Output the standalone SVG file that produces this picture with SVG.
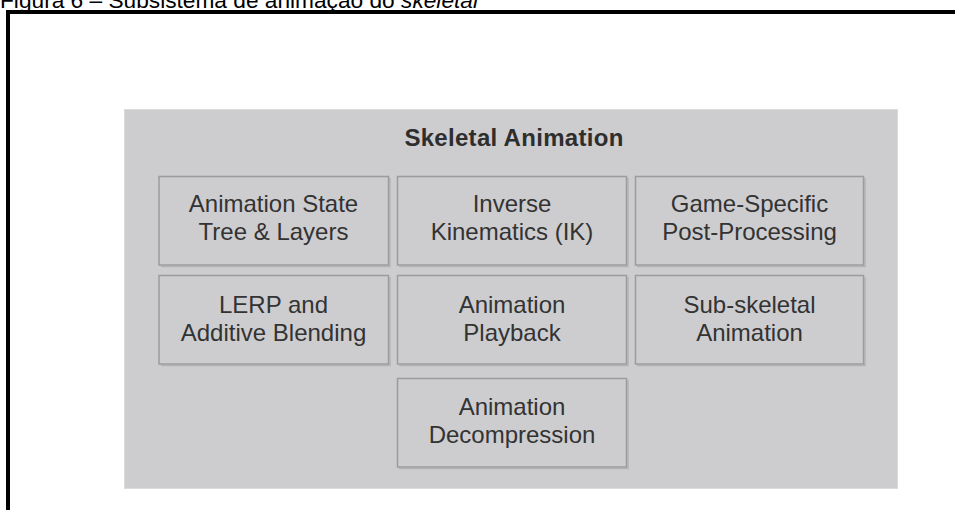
<svg xmlns="http://www.w3.org/2000/svg" width="955" height="510" viewBox="0 0 955 510">
  <style>
    .caption { font-family: "Liberation Sans", Arial, sans-serif; font-size: 22.7px; fill: #000; }
    .title { font-family: "Liberation Sans", Arial, sans-serif; font-size: 24px; font-weight: bold; fill: #2e2e2e; text-anchor: middle; letter-spacing: 0.3px; }
    .label { font-family: "Liberation Sans", Arial, sans-serif; font-size: 24px; fill: #333; text-anchor: middle; }
    .panel { fill: #cdcdcf; stroke: #dcdcde; stroke-width: 1; }
    .box { fill: #cdcdcf; stroke: #9c9c9e; stroke-width: 1.5; }
    .shadow { fill: none; stroke: #b4b4b6; stroke-width: 1.5; }
  </style>

  <rect x="0" y="0" width="955" height="510" fill="#ffffff"/>

  <!-- figure caption, partly outside the page top -->
  <text class="caption" x="0" y="8">Figura 6 – Subsistema de animação do <tspan font-style="italic">skeletal</tspan></text>

  <!-- page frame -->
  <g id="frame">
    <rect x="6" y="10" width="949" height="4" fill="#000"/>
    <rect x="6" y="10" width="4" height="500" fill="#000"/>
  </g>

  <!-- outer subsystem panel -->
  <g id="skeletal-animation">
    <rect class="panel" x="124.5" y="109.5" width="773" height="379"/>
    <text class="title" x="514" y="146">Skeletal Animation</text>
  </g>

  <g id="anim-state-tree">
    <polyline class="shadow" points="390,178 390,266.5 161,266.5"/>
    <rect class="box" x="159" y="176.5" width="229.5" height="88.5"/>
    <text class="label" x="273.5" y="212">Animation State</text>
    <text class="label" x="273.5" y="240">Tree &amp; Layers</text>
  </g>

  <g id="inverse-kinematics">
    <polyline class="shadow" points="628,178 628,266.5 399,266.5"/>
    <rect class="box" x="397.5" y="176.5" width="229" height="88.5"/>
    <text class="label" x="512" y="212">Inverse</text>
    <text class="label" x="512" y="240">Kinematics (IK)</text>
  </g>

  <g id="post-processing">
    <polyline class="shadow" points="865,178 865,266.5 637,266.5"/>
    <rect class="box" x="635.5" y="176.5" width="228" height="88.5"/>
    <text class="label" x="749.5" y="212">Game-Specific</text>
    <text class="label" x="749.5" y="240">Post-Processing</text>
  </g>

  <g id="lerp-blending">
    <polyline class="shadow" points="390,277 390,365.5 161,365.5"/>
    <rect class="box" x="159" y="275.5" width="229.5" height="88.5"/>
    <text class="label" x="273.5" y="313">LERP and</text>
    <text class="label" x="273.5" y="341">Additive Blending</text>
  </g>

  <g id="anim-playback">
    <polyline class="shadow" points="628,277 628,365.5 399,365.5"/>
    <rect class="box" x="397.5" y="275.5" width="229" height="88.5"/>
    <text class="label" x="512" y="313">Animation</text>
    <text class="label" x="512" y="341">Playback</text>
  </g>

  <g id="sub-skeletal">
    <polyline class="shadow" points="865,277 865,365.5 637,365.5"/>
    <rect class="box" x="635.5" y="275.5" width="228" height="88.5"/>
    <text class="label" x="749.5" y="313">Sub-skeletal</text>
    <text class="label" x="749.5" y="341">Animation</text>
  </g>

  <g id="anim-decompression">
    <polyline class="shadow" points="628,380 628,468.5 399,468.5"/>
    <rect class="box" x="397.5" y="378.5" width="229" height="88.5"/>
    <text class="label" x="512" y="415">Animation</text>
    <text class="label" x="512" y="443">Decompression</text>
  </g>

  <!-- no connectors in this diagram -->
  <g id="connectors"></g>
</svg>
